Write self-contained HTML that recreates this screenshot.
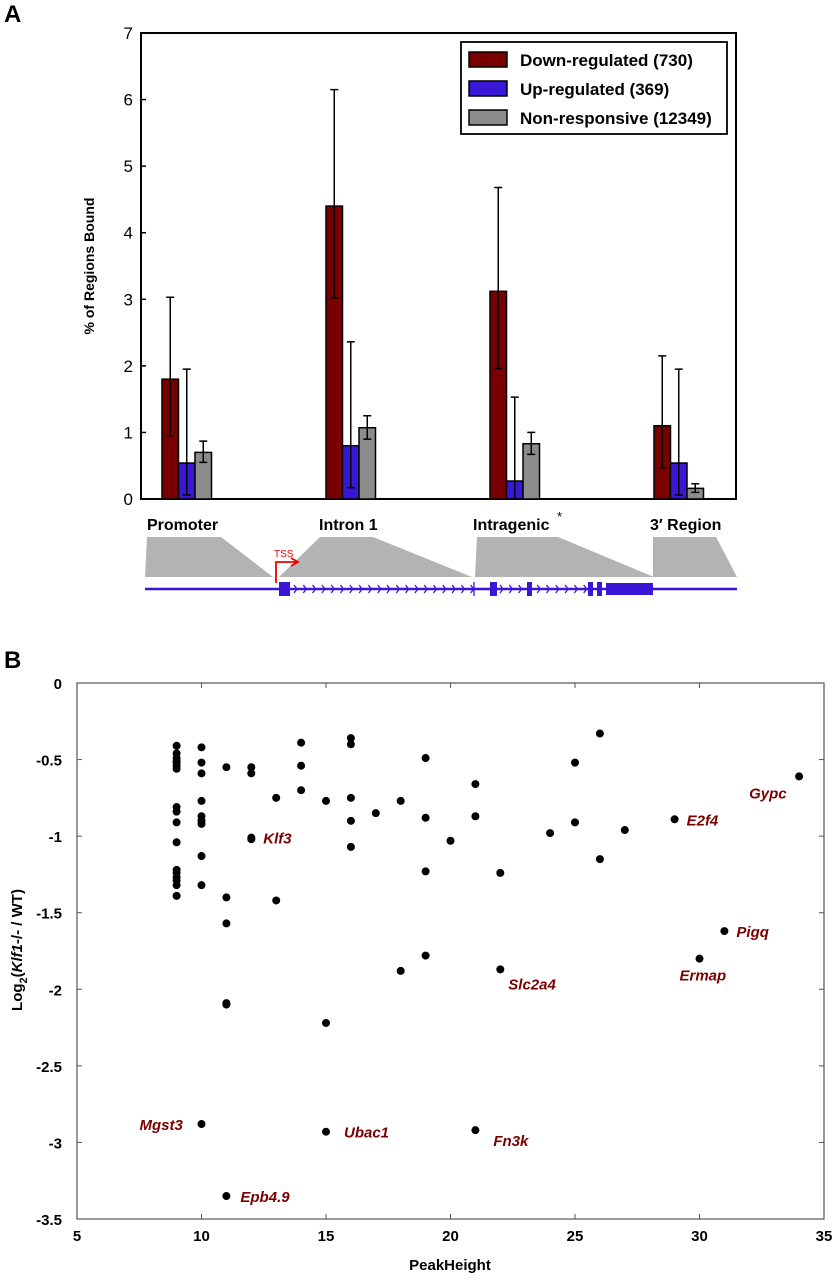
<!DOCTYPE html>
<html><head><meta charset="utf-8">
<style>
html,body{margin:0;padding:0;background:#fff;}
svg{display:block;font-family:"Liberation Sans",sans-serif;}
</style></head>
<body>
<svg id="fig" width="838" height="1280" viewBox="0 0 838 1280" xmlns="http://www.w3.org/2000/svg">
<text x="4" y="22" font-size="24" font-weight="bold">A</text>
<text x="4" y="668" font-size="24" font-weight="bold">B</text>
<g id="chartA"></g>
<g id="gene"></g>
<g id="chartB"></g>
</svg>
<script>
const NS="http://www.w3.org/2000/svg";
// ---- Panel A data ----
const regions=["Promoter","Intron 1","Intragenic","3\u2032 Region"];
const seriesNames=["Down-regulated (730)","Up-regulated (369)","Non-responsive (12349)"];
const downVals=[1.8,4.4,3.12,1.1];
const downLo=[0.95,3.02,1.96,0.47];
const downHi=[3.03,6.15,4.68,2.15];
const upVals=[0.54,0.8,0.27,0.54];
const upLo=[0.06,0.17,0,0.06];
const upHi=[1.95,2.36,1.53,1.95];
const nonVals=[0.7,1.07,0.83,0.16];
const nonLo=[0.55,0.9,0.67,0.1];
const nonHi=[0.87,1.25,1.0,0.23];
const yTicksA=[0,1,2,3,4,5,6,7];
// ---- Panel B data ----
const peakX=[9,9,9,9,9,9,9,9,9,9,9,9,9,9,9,9,9,
 10,10,10,10,10,10,10,10,10,10,
 11,11,11,11,11,11,
 12,12,12,12,
 13,13,14,14,14,15,15,15,
 16,16,16,16,16,17,18,18,19,19,19,19,20,21,21,21,22,22,24,25,25,26,26,27,29,30,31,34];
const log2Y=[-0.41,-0.46,-0.49,-0.51,-0.52,-0.54,-0.56,-0.81,-0.84,-0.91,-1.04,-1.22,-1.24,-1.27,-1.29,-1.32,-1.39,
 -0.42,-0.52,-0.59,-0.77,-0.87,-0.9,-0.92,-1.13,-1.32,-2.88,
 -0.55,-1.4,-1.57,-2.09,-2.1,-3.35,
 -0.55,-0.59,-1.01,-1.02,
 -0.75,-1.42,-0.39,-0.54,-0.7,-0.77,-2.22,-2.93,
 -0.36,-0.4,-0.75,-0.9,-1.07,-0.85,-0.77,-1.88,-0.49,-0.88,-1.23,-1.78,-1.03,-0.66,-0.87,-2.92,-1.24,-1.87,-0.98,-0.52,-0.91,-0.33,-1.15,-0.96,-0.89,-1.8,-1.62,-0.61];
const geneNames=["Klf3","Slc2a4","E2f4","Gypc","Pigq","Ermap","Mgst3","Ubac1","Fn3k","Epb4.9"];
const geneX=[12,22,29,34,31,30,10,15,21,11];
const geneY=[-1.01,-1.87,-0.89,-0.61,-1.62,-1.8,-2.88,-2.93,-2.92,-3.35];
const geneDx=[12,8,12,-50,12,-20,-62,18,18,14];
const geneDy=[6,20,6,22,6,22,6,6,16,6];
const xTicksB=[5,10,15,20,25,30,35];
const yTicksB=[0,-0.5,-1,-1.5,-2,-2.5,-3,-3.5];

function el(parent,tag,attrs,text){const e=document.createElementNS(NS,tag);for(const k in attrs)e.setAttribute(k,attrs[k]);if(text!==undefined)e.textContent=text;parent.appendChild(e);return e;}

// ---- Panel A ----
const A=document.getElementById('chartA');
const aL=141,aR=736,aT=33,aB=499;
const yA=v=>aB-(v/7)*(aB-aT);
const groupCenters=[187,351,515,679];
const xA=(g,s)=>groupCenters[g]-25+s*16.5;
const bw=16.5;
const colors=["#7a0000","#3a17d6","#8c8c8c"];
const vals=[downVals,upVals,nonVals],lo=[downLo,upLo,nonLo],hi=[downHi,upHi,nonHi];
let r=el(A,'rect',{x:aL,y:aT,width:aR-aL,height:aB-aT,fill:'none',stroke:'#000','stroke-width':2});

yTicksA.forEach(t=>{const y=yA(t);
 let l=el(A,'line',{x1:aL,x2:aL+5,y1:y,y2:y,stroke:'#000','stroke-width':1.5});
 
 let tx=el(A,'text',{x:aL-8,y:y+6,'font-size':17,'text-anchor':'end'},t);
 });
let yt=el(A,'text',{x:94,y:266,'font-size':14,'font-weight':'bold','text-anchor':'middle',transform:'rotate(-90 94 266)'},'% of Regions Bound');

for(let s=0;s<3;s++){for(let g=0;g<4;g++){
 const x=xA(g,s);const y=yA(vals[s][g]);
 let b=el(A,'rect',{x:x,y:y,width:bw,height:aB-y,fill:colors[s],stroke:'#000','stroke-width':1.5});
 
 const cx=x+bw/2,y1=yA(lo[s][g]),y2=yA(hi[s][g]);
 let eb=el(A,'path',{d:`M${cx},${y1}V${y2}M${cx-4},${y1}H${cx+4}M${cx-4},${y2}H${cx+4}`,stroke:'#000','stroke-width':1.5,fill:'none'});
 
}}
// legend
const lg=el(A,'g',{});

el(lg,'rect',{x:461,y:42,width:266,height:92,fill:'#fff',stroke:'#000','stroke-width':1.8});
seriesNames.forEach((n,i)=>{const y=52+i*29;
 let sw=el(lg,'rect',{x:469,y:y,width:38,height:15,fill:colors[i],stroke:'#000','stroke-width':1.5});
 
 let t=el(lg,'text',{x:520,y:y+14,'font-size':17,'font-weight':'bold'},n);
 });
// category labels
const catX=[147,319,473,650];
regions.forEach((n,i)=>{let t=el(A,'text',{x:catX[i],y:530,'font-size':16,'font-weight':'bold'},n);
 });
let ast=el(A,'text',{x:557,y:521,'font-size':13},'*');

// ---- Gene diagram ----
const G=document.getElementById('gene');
[[147,221,273,145],[320,373,472,279],[477,558,654,475],[653,716,737,653]].forEach(p=>{
 let t=el(G,'polygon',{points:`${p[0]},537 ${p[1]},537 ${p[2]},577 ${p[3]},577`,fill:'#b3b3b3'});
 });
let gl=el(G,'line',{x1:145,x2:737,y1:589,y2:589,stroke:'#3a17d6','stroke-width':2.5});

[[279,290,14],[490,497,14],[527,532,14],[588,593,14],[597,602,14],[606,653,12]].forEach(e=>{
 let x=el(G,'rect',{x:e[0],y:589-e[2]/2,width:e[1]-e[0],height:e[2],fill:'#3a17d6'});
 });
let d='';
for(let x=294;x<472;x+=9.3){d+=`M${x},585L${x+3},589L${x},593`;}
for(let x=500;x<585;x+=9.3){if(x>525&&x<535)continue;d+=`M${x},585L${x+3},589L${x},593`;}
d+='M474,582V596';
let ch=el(G,'path',{d:d,stroke:'#3a17d6','stroke-width':1.3,fill:'none'});

let ts=el(G,'path',{d:'M276,583V562H296M291,558L298,562L291,566',stroke:'#e00','stroke-width':1.8,fill:'none'});

let tt=el(G,'text',{x:274,y:557,'font-size':10,fill:'#e00'},'TSS');


// ---- Panel B ----
const B=document.getElementById('chartB');
const bL=77,bR=824,bT=683,bBt=1219;
const xB=v=>bL+(v-5)/30*(bR-bL);
const yB=v=>bT+(-v)/3.5*(bBt-bT);
let fr=el(B,'rect',{x:bL,y:bT,width:bR-bL,height:bBt-bT,fill:'none',stroke:'#555','stroke-width':1.2});

xTicksB.forEach(t=>{const x=xB(t);
 el(B,'line',{x1:x,x2:x,y1:bBt,y2:bBt-5,stroke:'#555'});el(B,'line',{x1:x,x2:x,y1:bT,y2:bT+5,stroke:'#555'});
 let tx=el(B,'text',{x:x,y:bBt+22,'font-size':15,'font-weight':'bold','text-anchor':'middle'},t);
 });
yTicksB.forEach(t=>{const y=yB(t);
 el(B,'line',{x1:bL,x2:bL+5,y1:y,y2:y,stroke:'#555'});el(B,'line',{x1:bR,x2:bR-5,y1:y,y2:y,stroke:'#555'});
 let tx=el(B,'text',{x:bL-15,y:y+6,'font-size':15,'font-weight':'bold','text-anchor':'end'},t);
 });
let xl=el(B,'text',{x:450,y:1270,'font-size':15,'font-weight':'bold','text-anchor':'middle'},'PeakHeight');

let yl=el(B,'text',{x:0,y:0,'font-size':15,'font-weight':'bold','text-anchor':'middle',transform:'translate(22,950) rotate(-90)'});

yl.innerHTML='Log<tspan dy="5" font-size="11">2</tspan><tspan dy="-5">(</tspan><tspan font-style="italic">Klf1</tspan>-/- / WT)';
peakX.forEach((v,i)=>{let c=el(B,'circle',{cx:xB(v),cy:yB(log2Y[i]),r:4,fill:'#000'});
 });
geneNames.forEach((n,i)=>{let t=el(B,'text',{x:xB(geneX[i])+geneDx[i],y:yB(geneY[i])+geneDy[i],'font-size':15,'font-weight':'bold','font-style':'italic',fill:'#7a0000'},n);
 });
</script>
</body></html>
